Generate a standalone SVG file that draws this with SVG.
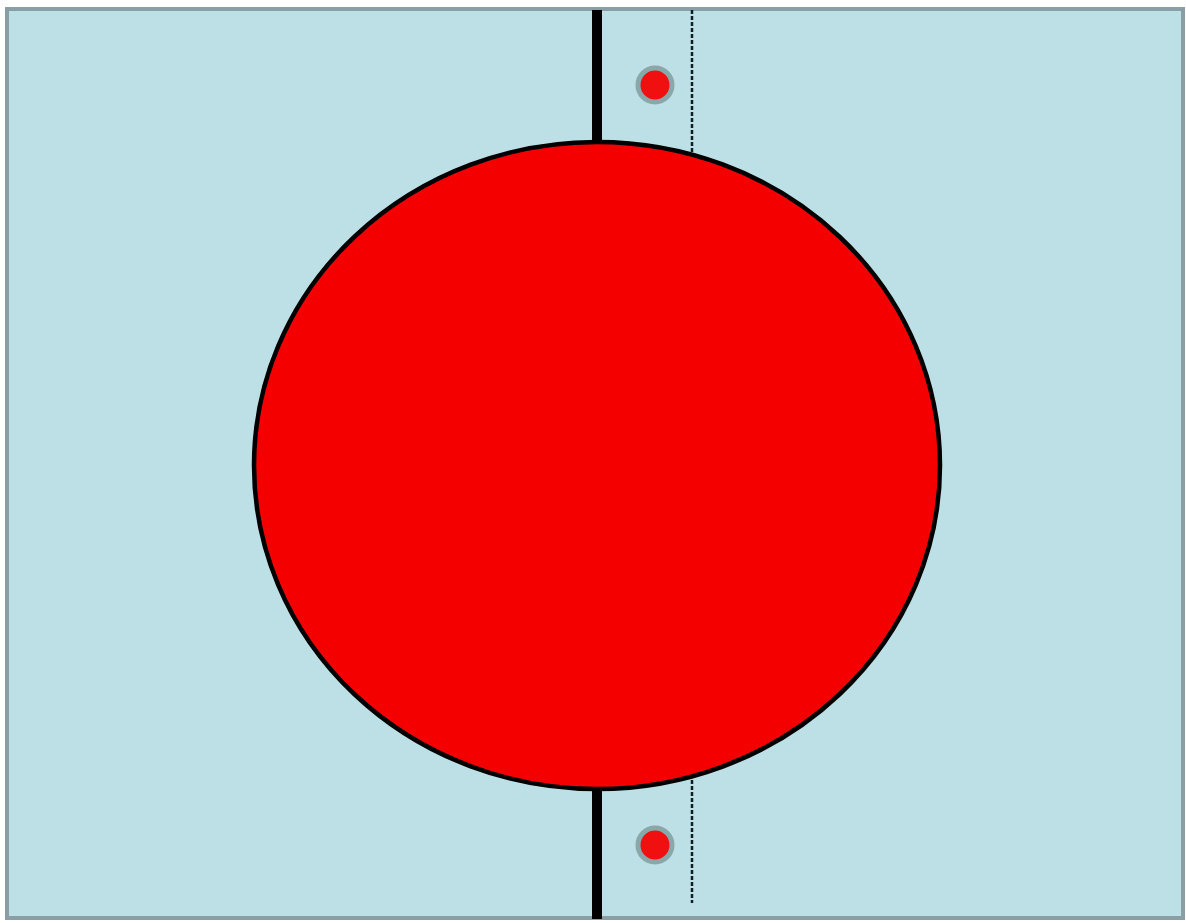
<svg xmlns="http://www.w3.org/2000/svg" width="1186" height="923" viewBox="0 0 1186 923">
<style>
.bg{fill:#bce0e6;stroke:#8a9ea5;stroke-width:4}
.big{fill:#f40000;stroke:#000;stroke-width:4.5}
.thick{stroke:#000;stroke-width:10;fill:none}
.dash{stroke:#0f1e22;stroke-width:2.5;stroke-dasharray:4 2;fill:none}
.dot{fill:#f01010;stroke:#8aa8aa;stroke-width:5}
</style>
<rect width="1186" height="923" fill="#ffffff"/>
<rect id="panel" class="bg" x="7" y="9" width="1176" height="909"/>
<g id="connectors">
<line class="thick" x1="597" y1="10" x2="597" y2="145"/>
<line class="thick" x1="597" y1="786" x2="597" y2="919"/>
<line class="dash" x1="692" y1="10" x2="692" y2="152"/>
<line class="dash" x1="692" y1="780" x2="692" y2="903"/>
</g>
<g id="sphere"><ellipse class="big" cx="597" cy="465.5" rx="343" ry="323.5"/></g>
<g id="dot-top"><circle class="dot" cx="655" cy="85" r="17"/></g>
<g id="dot-bottom"><circle class="dot" cx="655" cy="845" r="17"/></g>
</svg>
